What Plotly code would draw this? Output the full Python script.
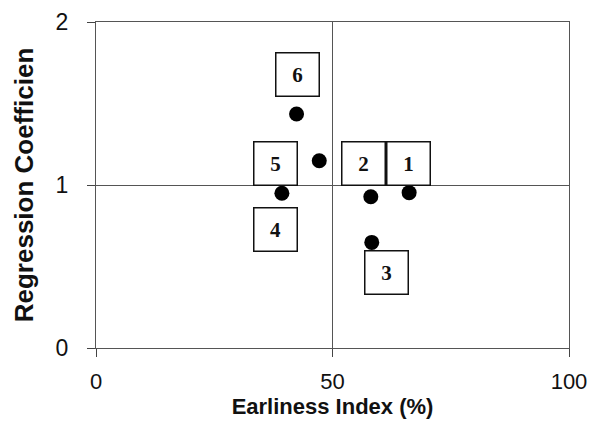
import plotly.graph_objects as go

# Data points (Earliness Index %, Regression coefficient)
earliness = [66.2, 58.1, 58.3, 39.3, 47.2, 42.4]
regression = [0.953, 0.928, 0.648, 0.949, 1.149, 1.436]

# Box labels and their positions
labels = ["1", "2", "3", "4", "5", "6"]
label_x = [66.0, 56.6, 61.4, 38.0, 38.0, 42.6]
label_y = [1.133, 1.133, 0.466, 0.729, 1.133, 1.675]

x_ticks = [0, 50, 100]
y_ticks = [0, 1, 2]

fig = go.Figure()
fig.add_trace(go.Scatter(
    x=earliness, y=regression, mode="markers",
    marker=dict(color="black", size=15),
    showlegend=False, hoverinfo="skip", cliponaxis=False,
))

for t, lx, ly in zip(labels, label_x, label_y):
    fig.add_annotation(
        x=lx, y=ly, xref="x", yref="y", text="<b>%s</b>" % t, showarrow=False,
        font=dict(family="Liberation Serif", size=21, color="#111"),
        bordercolor="#111", borderwidth=1.5, borderpad=0,
        width=42, height=42, bgcolor="white",
    )

axis_common = dict(
    showgrid=True, gridcolor="#555", gridwidth=1,
    zeroline=False, showline=True, mirror=True, linecolor="#555", linewidth=1,
    ticks="outside", ticklen=8, tickcolor="#444", tickwidth=1,
    tickfont=dict(family="Liberation Sans", size=23, color="#111"),
    automargin=False,
)

fig.update_xaxes(
    range=[0, 100], tickvals=x_ticks, ticktext=[str(v) for v in x_ticks],
    ticklabelstandoff=6, tickfont_size=22,
    title=dict(text="<b>Earliness Index (%)</b>", standoff=0,
               font=dict(family="Liberation Sans", size=22, color="#111")),
    **{k: v for k, v in axis_common.items() if k != "tickfont"},
    tickfont_family="Liberation Sans", tickfont_color="#111",
)
fig.update_yaxes(
    range=[0, 2], tickvals=y_ticks, ticktext=[str(v) for v in y_ticks],
    ticklabelstandoff=14,
    title=dict(text="<b>Regression Coefficien</b>", standoff=14,
               font=dict(family="Liberation Sans", size=26, color="#111")),
    **axis_common,
)

fig.update_layout(
    width=595, height=421,
    margin=dict(l=96, r=26, t=22, b=73),
    plot_bgcolor="white", paper_bgcolor="white",
)

fig.write_html("out.html")
